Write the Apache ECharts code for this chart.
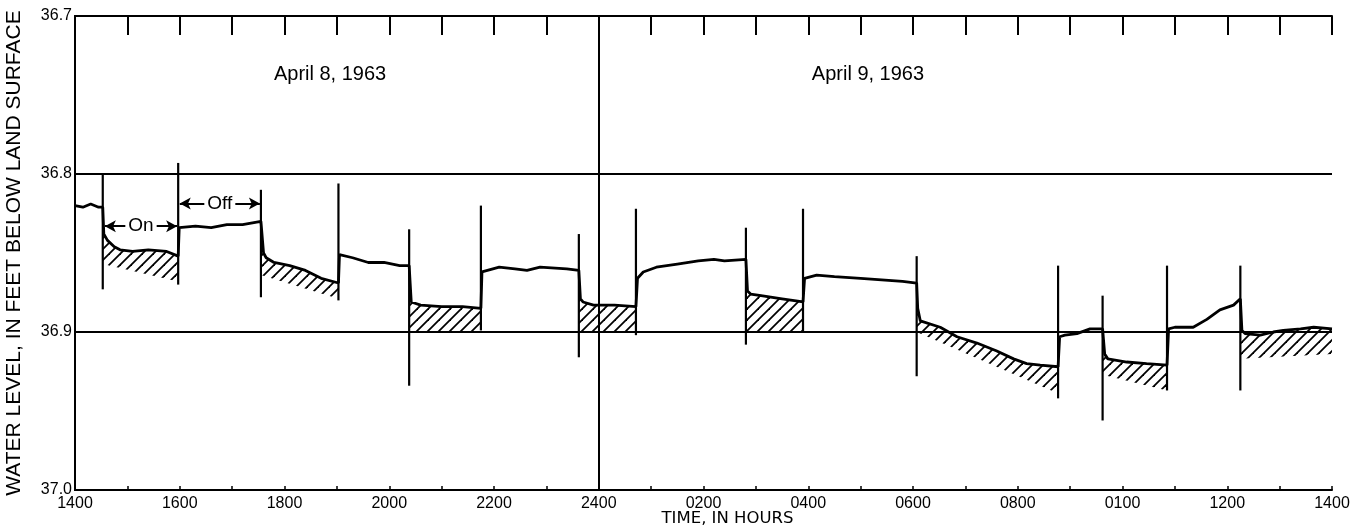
<!DOCTYPE html>
<html><head><meta charset="utf-8">
<script src="https://cdn.jsdelivr.net/npm/echarts@6/dist/echarts.min.js"></script>
<style>html,body{margin:0;padding:0;background:#fff}#c{width:1365px;height:525px}</style>
</head><body><div id="c"></div>
<script>
// hours after 1400 on April 8, 1963
const tickLabels = ['1400','1600','1800','2000','2200','2400','0200','0400','0600','0800','0100','1200','1400'];
const yMin = 36.7, yMax = 37.0, yStep = 0.1;
const midnightT = 10;

// recorded water level trace [hours, feet below land surface]
const trace = [
[0,36.820],[0.15,36.821],[0.3,36.819],[0.45,36.821],[0.53,36.821],
[0.55,36.838],[0.62,36.842],[0.75,36.846],[0.86,36.848],[1.1,36.849],[1.4,36.848],[1.75,36.849],[1.97,36.852],
[1.99,36.834],[2.3,36.833],[2.6,36.834],[2.9,36.832],[3.2,36.832],[3.55,36.830],
[3.6,36.850],[3.65,36.853],[3.8,36.856],[4.1,36.858],[4.4,36.861],[4.7,36.866],[5.03,36.869],
[5.05,36.851],[5.3,36.853],[5.6,36.856],[5.9,36.856],[6.2,36.858],[6.38,36.858],
[6.42,36.881],[6.6,36.883],[7.0,36.884],[7.4,36.884],[7.75,36.885],
[7.77,36.862],[8.1,36.859],[8.4,36.860],[8.63,36.861],[8.88,36.859],[9.39,36.860],[9.62,36.861],
[9.65,36.879],[9.7,36.881],[9.9,36.883],[10.3,36.883],[10.71,36.884],
[10.74,36.866],[10.85,36.862],[11.1,36.859],[11.5,36.857],[11.9,36.855],[12.2,36.854],[12.4,36.855],[12.81,36.854],
[12.84,36.874],[12.9,36.876],[13.1,36.877],[13.5,36.879],[13.9,36.881],
[13.93,36.866],[14.16,36.864],[14.5,36.865],[15.0,36.866],[15.4,36.867],[15.8,36.868],[16.07,36.869],
[16.09,36.885],[16.14,36.893],[16.52,36.897],[16.84,36.903],[17.22,36.907],[17.6,36.912],[17.92,36.917],[18.17,36.920],[18.43,36.921],[18.77,36.922],
[18.8,36.903],[18.9,36.902],[19.13,36.901],[19.38,36.898],[19.62,36.898],
[19.66,36.914],[19.72,36.917],[20.08,36.919],[20.46,36.920],[20.85,36.921],
[20.88,36.898],[21.0,36.897],[21.35,36.897],[21.61,36.892],[21.86,36.886],[22.12,36.883],[22.25,36.879],
[22.28,36.899],[22.34,36.901],[22.63,36.902],[22.88,36.900],[23.07,36.899],[23.4,36.898],[23.65,36.897],[24,36.898]
];

// pump switching surges
const spikeT      = [0.53,1.97,3.55,5.03,6.38,7.75,9.62,10.71,12.81,13.9,16.07,18.77,19.62,20.85,22.25];
const spikeTop    = [36.800,36.793,36.810,36.806,36.835,36.820,36.838,36.822,36.834,36.822,36.852,36.858,36.877,36.858,36.858];
const spikeBottom = [36.873,36.870,36.878,36.880,36.934,36.899,36.916,36.902,36.908,36.900,36.928,36.942,36.956,36.937,36.937];

// hatched drawdown areas (pump on)
const hatchStart       = [0.53,3.55,6.38,9.62,12.81,16.07,19.62,22.25];
const hatchEnd         = [1.97,5.03,7.75,10.71,13.9,18.77,20.85,24];
const hatchBottomStart = [36.857,36.864,36.900,36.900,36.900,36.900,36.927,36.917];
const hatchBottomEnd   = [36.868,36.879,36.900,36.900,36.900,36.939,36.937,36.914];

// annotations
const arrowLabels = ['On','Off'];
const arrowStart  = [0.57, 2.0];
const arrowEnd    = [1.95, 3.53];
const arrowLevel  = [36.833, 36.8186];
const dateLabels  = ['April 8, 1963','April 9, 1963'];
const dateT       = [4.87, 15.14];
const dateLevel   = 36.737;

const FONT = 'Liberation Sans, Arial, sans-serif';
const WIDE = 'DejaVu Sans, Liberation Sans, sans-serif';

// hatch pattern
const pc = document.createElement('canvas');
pc.width = 11; pc.height = 11;
const pctx = pc.getContext('2d');
pctx.strokeStyle = '#000'; pctx.lineWidth = 1.8;
[[-11,11,11,-11],[0,11,11,0],[0,22,22,0]].forEach(function(l){pctx.beginPath();pctx.moveTo(l[0],l[1]);pctx.lineTo(l[2],l[3]);pctx.stroke();});
const hatchFill = {image: pc, repeat: 'repeat'};

const chart = echarts.init(document.getElementById('c'), null, {renderer:'canvas'});

const spikeData = spikeT.map(function(t,i){return [t, spikeTop[i], spikeBottom[i]];});
const hatchData = hatchStart.map(function(s,i){return [s, hatchEnd[i], hatchBottomStart[i], hatchBottomEnd[i]];});

const axisLineStyle = {color:'#000', width:2};

chart.setOption({
  animation: false,
  backgroundColor: '#fff',
  grid: {left:75, right:33, top:16, bottom:35, containLabel:false, outerBoundsMode:'none'},
  xAxis: [{
    type:'value', min:0, max:24, interval:1, position:'bottom',
    axisLine:{show:true, lineStyle:axisLineStyle},
    axisTick:{show:true, inside:true, length:4, lineStyle:{color:'#000', width:1.5}},
    axisLabel:{color:'#000', fontFamily:FONT, fontSize:16, margin:6,
      formatter:function(v){ return (v%2===0) ? tickLabels[v/2] : ''; }},
    splitLine:{show:false},
    name:'TIME, IN HOURS', nameLocation:'middle', nameGap:20, nameMoveOverlap:false,
    nameTextStyle:{color:'#000', fontFamily:WIDE, fontSize:16.5, verticalAlign:'top', padding:[0,0,0,48]}
  },{
    type:'value', min:0, max:24, interval:1, position:'top',
    axisLine:{show:true, lineStyle:axisLineStyle},
    axisTick:{show:true, inside:true, length:19, lineStyle:{color:'#000', width:2}},
    axisLabel:{show:false}, splitLine:{show:false}
  }],
  yAxis: [{
    type:'value', inverse:true, min:yMin, max:yMax, interval:yStep, position:'left',
    axisLine:{show:true, lineStyle:axisLineStyle},
    axisTick:{show:false},
    axisLabel:{color:'#000', fontFamily:FONT, fontSize:16, margin:3,
      formatter:function(v){return v.toFixed(1);}},
    splitLine:{show:true, lineStyle:{color:'#000', width:2}},
    name:'WATER LEVEL, IN FEET BELOW LAND SURFACE', nameLocation:'middle', nameGap:50, nameRotate:90, nameMoveOverlap:false,
    nameTextStyle:{color:'#000', fontFamily:FONT, fontSize:21}
  },{
    type:'value', inverse:true, min:yMin, max:yMax, interval:yStep, position:'right',
    axisLine:{show:true, lineStyle:axisLineStyle},
    axisTick:{show:false}, axisLabel:{show:false}, splitLine:{show:false}
  }],
  series: [{
    type:'custom', name:'hatch', z:2,
    data: hatchData,
    encode:{x:[0,1], y:[2,3]},
    renderItem:function(params, api){
      const s = api.value(0), e = api.value(1), bs = api.value(2), be = api.value(3);
      const top = trace.filter(function(p){return p[0] > s + 1e-6 && p[0] <= e + 1e-6;});
      const pts = [api.coord([s, top[0][1]])];
      top.forEach(function(p){ pts.push(api.coord(p)); });
      pts.push(api.coord([e, be]));
      pts.push(api.coord([s, bs]));
      return {type:'polygon', shape:{points:pts}, style:{fill:hatchFill, stroke:null}};
    }
  },{
    type:'custom', name:'spikes', z:4,
    data: spikeData,
    encode:{x:0, y:[1,2]},
    renderItem:function(params, api){
      const p1 = api.coord([api.value(0), api.value(1)]);
      const p2 = api.coord([api.value(0), api.value(2)]);
      return {type:'line', shape:{x1:p1[0], y1:p1[1], x2:p2[0], y2:p2[1]}, style:{stroke:'#000', lineWidth:2.2}};
    },
    markLine:{
      silent:true, symbol:['none','none'],
      lineStyle:{color:'#000', width:2, type:'solid'},
      label:{show:false},
      data:[{xAxis:midnightT}]
    },
    markPoint:{
      silent:true, symbol:'rect', symbolSize:0, z:10,
      label:{show:true, position:'inside', color:'#000', fontFamily:FONT, fontSize:19,
        backgroundColor:'#fff', padding:[0,3], formatter:'{b}'},
      data: arrowLabels.map(function(n,i){ return {name:n, coord:[(arrowStart[i]+arrowEnd[i])/2, arrowLevel[i]]}; })
    }
  },{
    type:'line', name:'level', z:5,
    data: trace, showSymbol:false, symbol:'none',
    lineStyle:{color:'#000', width:2.8},
    markLine:{
      silent:true, symbol:['arrow','arrow'], symbolSize:[9,11],
      lineStyle:{color:'#000', width:1.8, type:'solid'},
      label:{show:false},
      data: arrowLabels.map(function(n,i){
        return [{name:n, coord:[arrowStart[i], arrowLevel[i]]},{coord:[arrowEnd[i], arrowLevel[i]]}];
      })
    },
    markPoint:{
      silent:true, symbol:'circle', symbolSize:0,
      label:{show:true, position:'inside', color:'#000', fontFamily:FONT, fontSize:20, formatter:'{b}'},
      data: dateLabels.map(function(n,i){ return {name:n, coord:[dateT[i], dateLevel]}; })
    }
  }]
});
</script></body></html>
